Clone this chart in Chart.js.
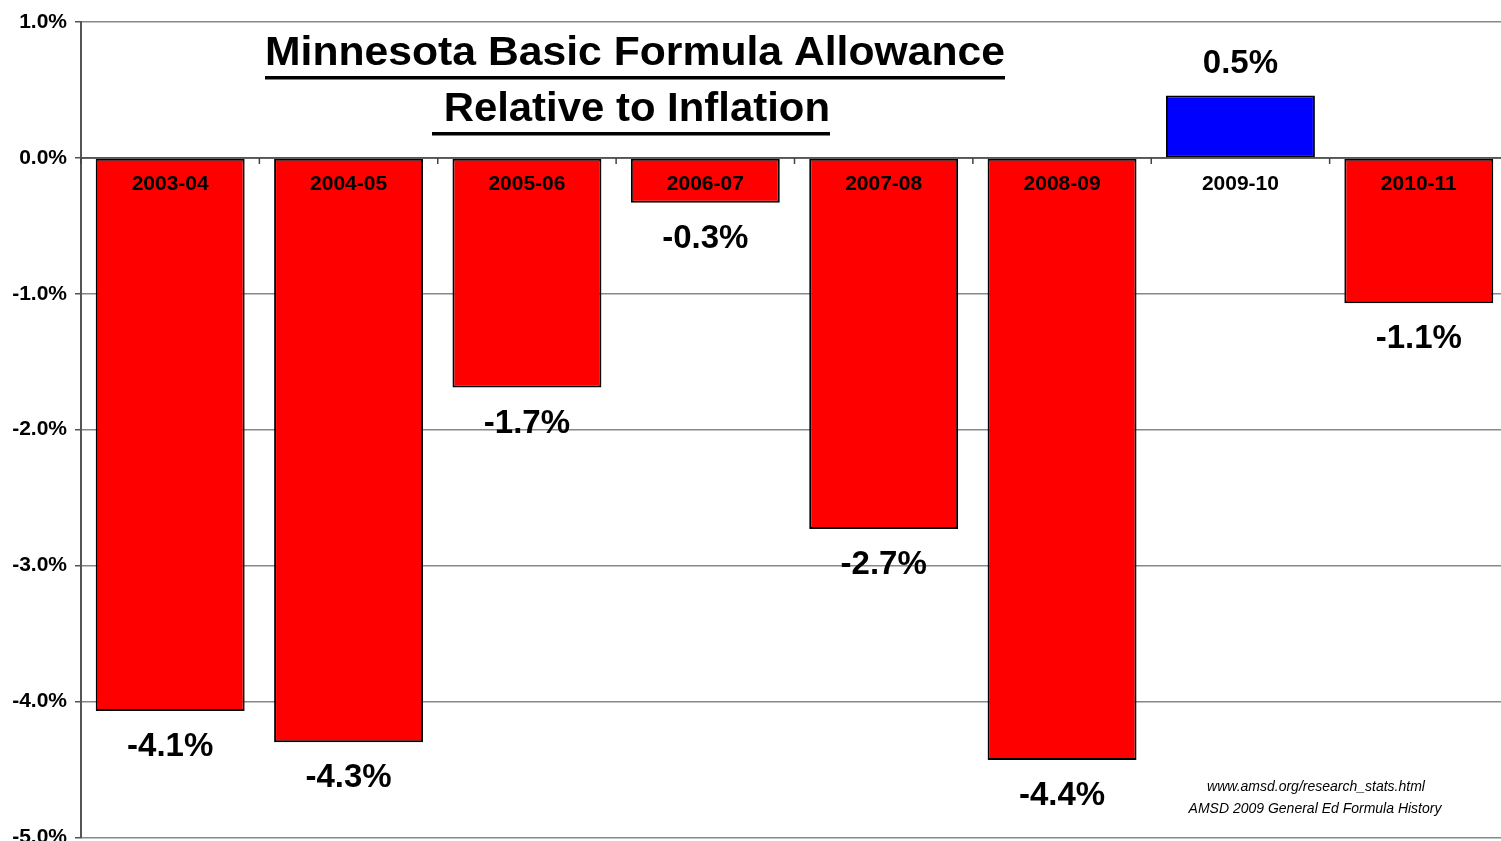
<!DOCTYPE html>
<html lang="en">
<head>
  <meta charset="UTF-8" />
  <title>Minnesota Basic Formula Allowance Relative to Inflation</title>
  <script src="https://cdn.jsdelivr.net/npm/chart.js"></script>
  <style>
    html, body { margin: 0; padding: 0; background: #fff; overflow: hidden; }
    #wrap { width: 1501px; height: 841px; overflow: hidden; }
  </style>
</head>
<body>
  <div id="wrap"><canvas id="chart" width="1508" height="858"></canvas></div>

  <script>
    // school years and allowance change relative to inflation (%)
    const years = ['2003-04', '2004-05', '2005-06', '2006-07', '2007-08', '2008-09', '2009-10', '2010-11'];
    const changes = [-4.07, -4.30, -1.69, -0.33, -2.73, -4.43, 0.46, -1.07];

    const titleLines = ['Minnesota Basic Formula Allowance', ' Relative to Inflation'];
    const sourceLines = ['www.amsd.org/research_stats.html', 'AMSD 2009 General Ed Formula History'];

    const fontFam = '"Liberation Sans", Arial, sans-serif';

    // draws category names, value labels, zero-line ticks, title and source note
    const annotate = {
      id: 'annotate',
      afterDatasetsDraw(chart) {
        const ctx = chart.ctx;
        const x = chart.scales.x;
        const y = chart.scales.y;
        const zero = y.getPixelForValue(0);
        const meta = chart.getDatasetMeta(0);

        ctx.save();
        // zero line + boundary ticks
        ctx.strokeStyle = '#444';
        ctx.lineWidth = 1.5;
        ctx.beginPath();
        ctx.moveTo(chart.chartArea.left, zero);
        ctx.lineTo(chart.chartArea.right, zero);
        for (let i = 0; i <= years.length; i++) {
          const bx = x.getPixelForValue(i - 0.5);
          ctx.moveTo(bx, zero);
          ctx.lineTo(bx, zero + 6);
        }
        ctx.stroke();

        ctx.fillStyle = '#000';
        ctx.textAlign = 'center';
        ctx.textBaseline = 'middle';
        meta.data.forEach((bar, i) => {
          ctx.font = 'bold 21px ' + fontFam;
          ctx.fillText(years[i], bar.x, zero + 26);
          ctx.font = 'bold 33px ' + fontFam;
          const v = changes[i];
          const ly = v < 0 ? bar.y + 36 : bar.y - 31;
          ctx.fillText(v.toFixed(1) + '%', bar.x, ly);
        });

        // title, underlined (squeezed to the reference width)
        const titleY = [54, 110];
        const titleW = [740, 398];
        ctx.font = 'bold 41px ' + fontFam;
        titleLines.forEach((t, i) => {
          const w = ctx.measureText(t).width;
          const sx = titleW[i] / w;
          const cx = i === 0 ? 635 : 631;
          ctx.save();
          ctx.translate(cx, titleY[i]);
          ctx.scale(sx, 1);
          ctx.fillText(t, 0, 0);
          ctx.restore();
          ctx.fillRect(cx - titleW[i] / 2, titleY[i] + 22, titleW[i], 3.5);
        });

        // source note
        ctx.font = 'italic 14px ' + fontFam;
        ctx.fillText(sourceLines[0], 1316, 787);
        ctx.fillText(sourceLines[1], 1315, 809);
        ctx.restore();
      }
    };

    new Chart(document.getElementById('chart'), {
      type: 'bar',
      data: {
        labels: years,
        datasets: [{
          data: changes,
          backgroundColor: changes.map(v => v < 0 ? '#ff0000' : '#0000ff'),
          borderColor: '#000',
          borderWidth: 2,
          borderSkipped: false,
          categoryPercentage: 1,
          barPercentage: 0.835
        }]
      },
      options: {
        responsive: false,
        animation: false,
        layout: { padding: { top: 22, bottom: 4, right: 0, left: 0 } },
        plugins: { legend: { display: false }, tooltip: { enabled: false } },
        scales: {
          x: { display: false },
          y: {
            min: -5,
            max: 1,
            afterFit(scale) { scale.width = 81; },
            ticks: {
              stepSize: 1,
              color: '#000',
              font: { family: fontFam, weight: 'bold', size: 21 },
              padding: 8,
              callback: v => v.toFixed(1) + '%'
            },
            grid: { color: '#888', lineWidth: 1.5, tickLength: 6, tickColor: '#555' },
            border: { color: '#555', width: 2 }
          }
        }
      },
      plugins: [annotate]
    });
  </script>
</body>
</html>
